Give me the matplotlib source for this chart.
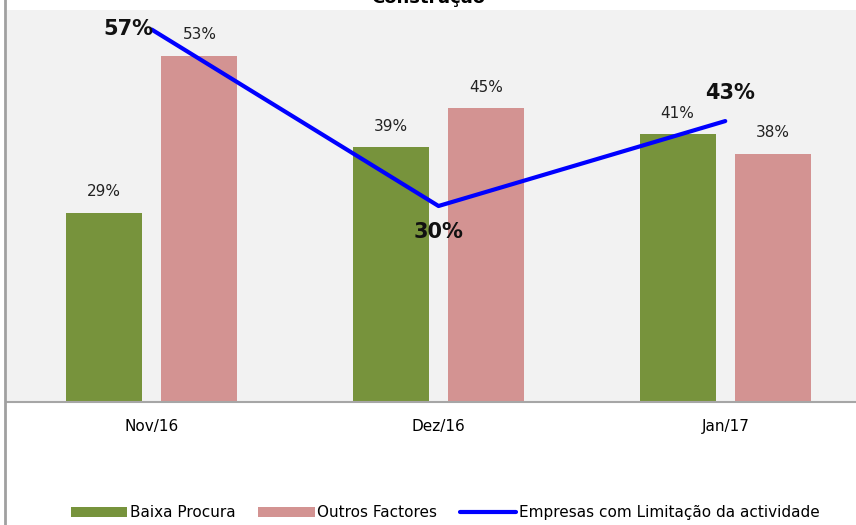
import matplotlib
matplotlib.use("Agg")
import matplotlib.pyplot as plt
import numpy as np
from matplotlib.lines import Line2D

months = ["Nov/16", "Dez/16", "Jan/17"]
baixa_procura = [29, 39, 41]
outros_factores = [53, 45, 38]
empresas_limitacao = [57, 30, 43]

green = "#77933c"
pink = "#d39392"
blue = "#0000ff"

fig = plt.figure(figsize=(8.56, 5.25), dpi=100)
ax = fig.add_axes([7 / 856, 1 - 402 / 525, 1 - 7 / 856, 392 / 525])
ax.set_facecolor("#f2f2f2")

x = np.arange(len(months))
w = 0.265
off = 0.166
b1 = ax.bar(x - off, baixa_procura, w, color=green, label="Baixa Procura", zorder=2)
b2 = ax.bar(x + off, outros_factores, w, color=pink, label="Outros Factores", zorder=2)
ln, = ax.plot(x, empresas_limitacao, color=blue, lw=3, label="Empresas com Limitação da actividade",
              zorder=3, solid_capstyle="round")

for bars, vals in ((b1, baixa_procura), (b2, outros_factores)):
    for rect, v in zip(bars, vals):
        ax.annotate(f"{v}%", (rect.get_x() + rect.get_width() / 2, v), xytext=(0, 21),
                    textcoords="offset pixels", ha="center", va="center", fontsize=11, color="#222222")

line_offsets = [((2, 1), "right"), ((0, -26), "center"), ((5, 28), "center")]
for xi, v, (o, ha) in zip(x, empresas_limitacao, line_offsets):
    ax.annotate(f"{v}%", (xi, v), xytext=o, textcoords="offset pixels", ha=ha, va="center",
                fontsize=15, fontweight="bold", color="#111111", zorder=4)

ax.set_ylim(0, 60)
ax.set_xlim(-0.505, 2.456)
ax.set_yticks([])
ax.set_xticks(x)
ax.set_xticklabels(months, fontsize=11)
ax.tick_params(axis="x", length=0, pad=12)
for s in ("top", "right", "left"):
    ax.spines[s].set_visible(False)
ax.spines["bottom"].set_color("#a6a6a6")
ax.spines["bottom"].set_linewidth(1.5)

fig.add_artist(Line2D([5 / 856, 5 / 856], [0, 1], color="#a0a0a0", lw=2, transform=fig.transFigure))
fig.text(0.5, 1.004, "Construção", ha="center", va="center", fontsize=13, fontweight="bold")

fig.legend(handles=[b1, b2, ln], loc="center", bbox_to_anchor=(0.52, 0.023), ncol=3,
           frameon=False, fontsize=11, handlelength=3.7, handleheight=0.7,
           handletextpad=0.15, columnspacing=1.5)

fig.savefig("out.png", dpi=100)
